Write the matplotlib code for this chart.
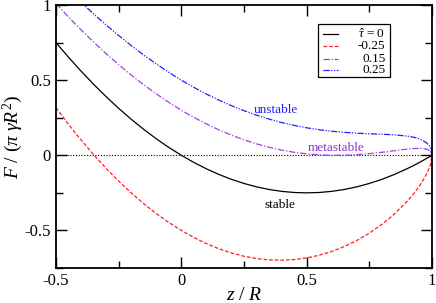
import matplotlib
matplotlib.use("Agg")
import matplotlib.pyplot as plt
from matplotlib.patches import Rectangle

plt.rcParams['font.family'] = ['Liberation Serif', 'DejaVu Serif']
plt.rcParams['mathtext.fontset'] = 'custom'
plt.rcParams['mathtext.rm'] = 'Liberation Serif'
plt.rcParams['mathtext.it'] = 'Liberation Serif:italic'

# z / R positions
z = [-0.5, -0.45, -0.4, -0.35, -0.3, -0.25, -0.2, -0.15, -0.1, -0.05,
     0.0, 0.05, 0.1, 0.15, 0.2, 0.25, 0.3, 0.35, 0.4, 0.45,
     0.5, 0.55, 0.6, 0.65, 0.7, 0.75, 0.8, 0.85, 0.9, 0.93,
     0.95, 0.97, 0.98, 0.99, 0.995, 1.0]

# F / (pi gamma R^2) for each tau
f_0 = [0.75, 0.6525, 0.56, 0.4725, 0.39, 0.3125, 0.24, 0.1725, 0.11, 0.0525,
       0.0, -0.0475, -0.09, -0.1275, -0.16, -0.1875, -0.21, -0.2275, -0.24, -0.2475,
       -0.25, -0.2475, -0.24, -0.2275, -0.21, -0.1875, -0.16, -0.1275, -0.09, -0.065,
       -0.0475, -0.029, -0.0196, -0.0099, -0.005, 0.0]
f_m025 = [0.317, 0.206, 0.102, 0.004, -0.087, -0.172, -0.250, -0.322, -0.388, -0.447,
          -0.5, -0.547, -0.588, -0.622, -0.650, -0.672, -0.687, -0.696, -0.698, -0.694,
          -0.683, -0.665, -0.640, -0.607, -0.567, -0.518, -0.460, -0.391, -0.308, -0.249,
          -0.204, -0.151, -0.119, -0.080, -0.055, 0.0]
f_015 = [1.010, 0.920, 0.835, 0.754, 0.676, 0.603, 0.534, 0.469, 0.409, 0.352,
         0.3, 0.252, 0.2085, 0.169, 0.134, 0.103, 0.076, 0.0535, 0.035, 0.020,
         0.0098, 0.003, 0.0, 0.0005, 0.0042, 0.011, 0.020, 0.0305, 0.041, 0.045,
         0.046, 0.044, 0.040, 0.032, 0.025, 0.0]
f_025 = [1.183, 1.099, 1.018, 0.941, 0.867, 0.797, 0.730, 0.667, 0.608, 0.552,
         0.5, 0.452, 0.4075, 0.367, 0.330, 0.297, 0.267, 0.241, 0.218, 0.199,
         0.183, 0.170, 0.160, 0.1525, 0.147, 0.143, 0.140, 0.136, 0.128, 0.119,
         0.109, 0.0925, 0.080, 0.061, 0.045, 0.0]

tau_labels = [r"$\hat{\tau}$ = 0", "-0.25", "0.15", "0.25"]
colors = ["black", "#ff2020", "#a040e0", "#2020ff"]
styles = ["-", (0, (3, 1.5)), (0, (5, 1.5, 1, 1.5)), (0, (5, 1.2, 1, 1.2, 1, 1.2))]

fig = plt.figure(figsize=(4.36, 3.03), dpi=100)
ax = fig.add_axes([0.1284, 0.1155, 0.8624, 0.868])

ax.axhline(0, color="black", lw=0.8, ls=(0, (1, 1.5)))
for f, c, s in zip([f_0, f_m025, f_015, f_025], colors, styles):
    ax.plot(z, f, color=c, ls=s, lw=0.9)

ax.set_xlim(-0.5, 1)
ax.set_ylim(-0.75, 1)
ax.set_xticks([-0.5, 0, 0.5, 1])
ax.set_xticklabels(["-0.5", "0", "0.5", "1"])
ax.set_yticks([-0.5, 0, 0.5, 1])
ax.set_yticklabels(["-0.5", "0", "0.5", "1"])
ax.set_xticks([-0.25, 0.25, 0.75], minor=True)
ax.set_yticks([-0.75, -0.25, 0.25, 0.75], minor=True)
ax.tick_params(which="both", direction="in", top=True, right=True, labelsize=12, width=1)
ax.tick_params(which="major", length=8)
ax.tick_params(which="minor", length=5)
for sp in ax.spines.values():
    sp.set_linewidth(1.3)

ax.set_xlabel(r"$z$ / $R$", fontsize=14, labelpad=-1)
ax.set_ylabel(r"$F$ / ($\pi\ \gamma R^2$)", fontsize=14, labelpad=0)

ax.text(0.379, 0.301, "unstable", color="#2020ff", fontsize=9.5, ha="center", va="center")
ax.text(0.618, 0.047, "metastable", color="#9030d0", fontsize=9.5, ha="center", va="center")
ax.text(0.395, -0.33, "stable", color="black", fontsize=9.5, ha="center", va="center")

# legend box drawn by hand to get right aligned labels
ax.add_patch(Rectangle((0.697, 0.726), 0.19, 0.202, transform=ax.transAxes,
                       fill=False, lw=0.9, ec="black", zorder=5))
rows = [0.890, 0.843, 0.795, 0.753]
for lab, c, s, yr in zip(tau_labels, colors, styles, rows):
    ax.plot([0.711, 0.751], [yr, yr], transform=ax.transAxes, color=c, ls=s, lw=0.9)
    ax.text(0.876, yr, lab, transform=ax.transAxes, fontsize=9.5, ha="right", va="center")

fig.savefig("out.png", dpi=100)
